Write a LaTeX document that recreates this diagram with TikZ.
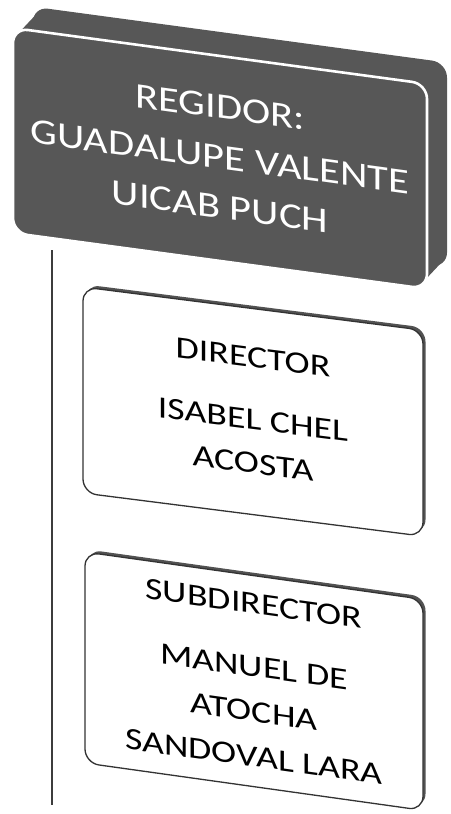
\documentclass[tikz,border=0pt]{standalone}
\usepackage{fontspec}
\setmainfont{Carlito}
\usepackage{graphicx}
\usetikzlibrary{shadows}
\definecolor{boxgray}{HTML}{575757}
\definecolor{edgegray}{HTML}{333333}
\definecolor{linegray}{HTML}{3C3C3C}
\begin{document}
\begin{tikzpicture}[x=1pt,y=-1pt,
  regbox/.style={transform shape, rectangle, rounded corners=15pt,
    fill=boxgray, draw=white, line width=2.6pt, inner sep=0pt,
    minimum width=414pt, minimum height=205pt, text=white,
    font=\fontsize{36}{50}\selectfont},
  whitebox/.style={transform shape, rectangle, rounded corners=14pt,
    fill=white, draw=edgegray, line width=1.3pt, inner sep=0pt,
    general shadow={shadow xshift=2.5pt, shadow yshift=2.5pt, fill=edgegray!85},
    text=black},
  vline/.style={draw=linegray, line width=2pt}]
\useasboundingbox (0,0) rectangle (450,814);

% ---------- top box (3D) ----------
\begin{scope}[shift={(13,28)}, yslant=-0.135]
  \fill[boxgray, rounded corners=15pt] (20,-24) rectangle (434,181);
  \fill[boxgray] (5,5) -- (25,-19) -- (429,176) -- (409,200) -- cycle;
  \node[regbox] (regidor) at (207,102.5)
    {\scalebox{1.18}[1]{\begin{tabular}{@{}c@{}}REGIDOR:\\GUADALUPE VALENTE\\UICAB PUCH\end{tabular}}};
\end{scope}

% ---------- director ----------
\begin{scope}[shift={(83,287)}, yslant=-0.127]
  \node[whitebox, minimum width=340pt, minimum height=206pt,
        font=\fontsize{31}{44}\selectfont] (director) at (170,103)
    {\scalebox{1.22}[1]{\begin{tabular}{@{}c@{}}DIRECTOR\\[18pt]ISABEL CHEL\\ACOSTA\end{tabular}}};
\end{scope}

% ---------- subdirector ----------
\begin{scope}[shift={(85,552)}, yslant=-0.14]
  \node[whitebox, minimum width=338pt, minimum height=211pt,
        font=\fontsize{31}{45}\selectfont] (subdirector) at (169,105.5)
    {\scalebox{1.22}[1]{\begin{tabular}{@{}c@{}}SUBDIRECTOR\\[18pt]MANUEL DE\\ATOCHA\\SANDOVAL LARA\end{tabular}}};
\end{scope}

% ---------- vertical connector ----------
\coordinate (vtop) at (52,250);
\coordinate (vbot) at (52,805);
\draw[vline] (vtop) -- (vbot);
\end{tikzpicture}
\end{document}
